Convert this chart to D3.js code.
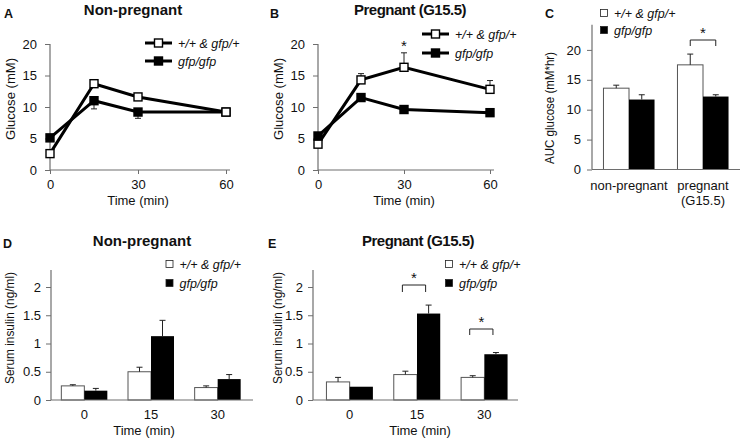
<!DOCTYPE html>
<html><head><meta charset="utf-8">
<script src="https://cdn.jsdelivr.net/npm/d3@7"></script>
<style>body{margin:0;background:#fff} text{font-family:"Liberation Sans",Arial,sans-serif;fill:#111}</style>
</head><body><svg id="c" width="746" height="445"></svg>
<script>
// ---- data ----
const glucoseTimes = [0, 15, 30, 60];
const glucoseXTicks = [0, 30, 60];
const glucoseYTicks = [0, 5, 10, 15, 20];
const npCtrl = [2.6, 13.7, 11.6, 9.2];
const npCtrlErr = [0.3, 0.4, 0.5, 0.3];
const npKO = [5.1, 11.0, 9.2, 9.2];
const npKOErr = [0.3, 1.3, 1.0, 0.4];
const pgCtrl = [4.1, 14.3, 16.3, 12.8];
const pgCtrlErr = [0.3, 1.0, 2.3, 1.4];
const pgKO = [5.4, 11.5, 9.6, 9.1];
const pgKOErr = [0.3, 0.4, 0.4, 0.4];

const aucCats = ["non-pregnant", "pregnant"];
const aucCatsLine2 = ["", "(G15.5)"];
const aucCtrl = [13.6, 17.5];
const aucCtrlErr = [0.5, 1.8];
const aucKO = [11.7, 12.2];
const aucKOErr = [0.8, 0.3];
const aucYTicks = [0, 5, 10, 15, 20];

const insTimes = ["0", "15", "30"];
const insYTicks = [0, 0.5, 1, 1.5, 2];
const npInsCtrl = [0.25, 0.50, 0.22];
const npInsCtrlErr = [0.02, 0.08, 0.03];
const npInsKO = [0.165, 1.13, 0.37];
const npInsKOErr = [0.04, 0.28, 0.08];
const pgInsCtrl = [0.32, 0.45, 0.40];
const pgInsCtrlErr = [0.08, 0.06, 0.03];
const pgInsKO = [0.235, 1.53, 0.81];
const pgInsKOErr = [0.0, 0.15, 0.03];

const legendCtrl = "+/+ & gfp/+";
const legendKO = "gfp/gfp";

// ---- drawing ----
const svg = d3.select("#c");
const AX = "#6e6e6e";

function styleAxis(g) {
  g.selectAll("path.domain").remove();
  g.selectAll(".tick line").attr("stroke", AX);
  g.selectAll(".tick text").attr("font-size", 13).attr("fill", "#111").style("font-family", '"Liberation Sans",Arial,sans-serif');
}
function text(x, y, s, o = {}) {
  const t = svg.append("text").attr("x", x).attr("y", y).text(s)
    .attr("font-size", o.size || 13).attr("text-anchor", o.anchor || "start");
  if (o.bold) t.attr("font-weight", "bold");
  if (o.italic) t.attr("font-style", "italic");
  if (o.ls) t.attr("letter-spacing", o.ls);
  if (o.rot) t.attr("transform", `rotate(-90,${x},${y})`);
  if (o.len) t.attr("textLength", o.len).attr("lengthAdjust", "spacingAndGlyphs");
  return t;
}
function line(x1, y1, x2, y2, c, w) {
  svg.append("line").attr("x1", x1).attr("y1", y1).attr("x2", x2).attr("y2", y2)
    .attr("stroke", c || "#000").attr("stroke-width", w || 1);
}
function errBar(x, yv, ye, cap) {
  line(x, yv, x, ye, "#222", 1);
  line(x - cap, ye, x + cap, ye, "#222", 1);
}

function lineChart(o) {
  const x = d3.scaleLinear().domain([0, 60]).range([o.x0, o.x1]);
  const y = d3.scaleLinear().domain([0, 20]).range([170, 44]);
  const gx = svg.append("g").attr("transform", "translate(0,170)")
    .call(d3.axisBottom(x).tickValues(glucoseXTicks).tickSize(4).tickPadding(6));
  styleAxis(gx);
  const gy = svg.append("g").attr("transform", `translate(${o.x0},0)`)
    .call(d3.axisLeft(y).tickValues(glucoseYTicks).tickSize(5).tickPadding(8));
  styleAxis(gy);
  line(o.x0, 170, o.x1 + 4, 170, AX, 1.2);
  line(o.x0, 170, o.x0, y(20), AX, 1.2);
  glucoseTimes.forEach((t, i) => {
    errBar(x(t), y(o.ctrl[i]), y(o.ctrl[i] + o.ctrlErr[i]), 3);
    errBar(x(t), y(o.ko[i]), y(o.ko[i] - o.koErr[i]), 3);
  });
  const ln = d3.line().x((d, i) => x(glucoseTimes[i])).y(d => y(d));
  [o.ko, o.ctrl].forEach(s => {
    svg.append("path").attr("d", ln(s)).attr("fill", "none").attr("stroke", "#000").attr("stroke-width", 3);
  });
  const m = 8;
  [[o.ko, "#000"], [o.ctrl, "#fff"]].forEach(([s, f]) => {
    svg.append("g").selectAll("rect").data(s).join("rect")
      .attr("x", (d, i) => x(glucoseTimes[i]) - m / 2).attr("y", d => y(d) - m / 2)
      .attr("width", m).attr("height", m).attr("fill", f).attr("stroke", "#000").attr("stroke-width", 1.4);
  });
  const L = o.leg;
  [[L.y1, "#fff", legendCtrl], [L.y2, "#000", legendKO]].forEach(([yy, f, s]) => {
    line(L.x, yy, L.x + 27, yy, "#000", 3);
    svg.append("rect").attr("x", L.x + 13.5 - 4).attr("y", yy - 4).attr("width", 8).attr("height", 8)
      .attr("fill", f).attr("stroke", "#000").attr("stroke-width", 1.4);
    text(L.x + 33, yy + 4.5, s, { size: 12.5, italic: true });
  });
  text(x(30), 205, "Time (min)", { anchor: "middle" });
  return { x, y };
}

function barChart(o) {
  const x = d3.scaleBand().domain(o.cats).range([o.b0, o.b1]);
  const y = d3.scaleLinear().domain([0, o.ymax]).range([o.base, o.base - o.ymax * o.ppu]);
  const gy = svg.append("g").attr("transform", `translate(${o.ax},0)`)
    .call(d3.axisLeft(y).tickValues(o.yticks).tickSize(5).tickPadding(o.tp || 6).tickFormat(d3.format("~g")));
  styleAxis(gy);
  const bw = x.bandwidth() * o.bwr;
  o.cats.forEach((c, i) => {
    const cx = x(c) + x.bandwidth() / 2;
    svg.append("rect").attr("x", cx - bw).attr("y", y(o.ctrl[i])).attr("width", bw)
      .attr("height", o.base - y(o.ctrl[i])).attr("fill", "#fff").attr("stroke", "#555").attr("stroke-width", 1);
    svg.append("rect").attr("x", cx).attr("y", y(o.ko[i])).attr("width", bw)
      .attr("height", o.base - y(o.ko[i])).attr("fill", "#000");
    if (o.ctrlErr[i] > 0) errBar(cx - bw / 2, y(o.ctrl[i]), y(o.ctrl[i] + o.ctrlErr[i]), 3);
    if (o.koErr[i] > 0) errBar(cx + bw / 2, y(o.ko[i]), y(o.ko[i] + o.koErr[i]), 3);
  });
  line(o.ax, o.base, o.axEnd, o.base, AX, 1.2);
  line(o.ax, o.base, o.ax, y(o.ymax), AX, 1.2);
  const L = o.leg;
  [[L.y1, "#fff", legendCtrl], [L.y2, "#000", legendKO]].forEach(([yy, f, s]) => {
    svg.append("rect").attr("x", L.x - 3.5).attr("y", yy - 3.5).attr("width", 7).attr("height", 7)
      .attr("fill", f).attr("stroke", "#222").attr("stroke-width", 0.8);
    text(L.x + 10, yy + 4.5, s, { size: 12.5, italic: true });
  });
  return { x, y, bw };
}

function bracket(x1, x2, yTop, yLeg, starY) {
  svg.append("path").attr("d", `M${x1},${yLeg}V${yTop}H${x2}V${yLeg}`)
    .attr("fill", "none").attr("stroke", "#222").attr("stroke-width", 1);
  text((x1 + x2) / 2, starY, "*", { anchor: "middle", size: 15 });
}

// ---- Panel A ----
lineChart({ x0: 50, x1: 226, ctrl: npCtrl, ctrlErr: npCtrlErr, ko: npKO, koErr: npKOErr,
  leg: { x: 145, y1: 43, y2: 61 } });
text(15, 99, "Glucose (mM)", { rot: true, anchor: "middle", size: 13.5, len: 82 });
text(133, 15, "Non-pregnant", { anchor: "middle", bold: true, size: 15 });
text(4, 18, "A", { size: 12.5, bold: true });

// ---- Panel B ----
const B = lineChart({ x0: 318, x1: 490, ctrl: pgCtrl, ctrlErr: pgCtrlErr, ko: pgKO, koErr: pgKOErr,
  leg: { x: 422, y1: 34, y2: 53 } });
text(283, 99, "Glucose (mM)", { rot: true, anchor: "middle", size: 13.5, len: 82 });
text(410, 15, "Pregnant (G15.5)", { anchor: "middle", bold: true, size: 15, ls: -0.5 });
text(270, 18, "B", { size: 12.5, bold: true });
text(B.x(30), 51, "*", { anchor: "middle", size: 15 });

// ---- Panel C ----
const C = barChart({ cats: aucCats, b0: 592, b1: 740, ax: 592, axEnd: 740, base: 169.5, ppu: 5.98, ymax: 24.2,
  yticks: aucYTicks, ctrl: aucCtrl, ctrlErr: aucCtrlErr, ko: aucKO, koErr: aucKOErr, bwr: 0.345, tp: 6,
  leg: { x: 604, y1: 13, y2: 30 } });
aucCats.forEach((c, i) => {
  const cx = C.x(c) + C.x.bandwidth() / 2;
  text(cx, 190, c, { anchor: "middle" });
  if (aucCatsLine2[i]) text(cx, 205, aucCatsLine2[i], { anchor: "middle" });
});
text(554, 108, "AUC glucose (mM*hr)", { rot: true, anchor: "middle", size: 13.5, len: 112 });
text(545, 18, "C", { size: 12.5, bold: true });
{
  const cx = C.x(aucCats[1]) + C.x.bandwidth() / 2;
  bracket(cx - C.bw / 2, cx + C.bw / 2, 40, 46, 38);
}

// ---- Panel D ----
const D = barChart({ cats: insTimes, b0: 51, b1: 251, ax: 51, axEnd: 253, base: 400, ppu: 56.5, ymax: 2.3,
  yticks: insYTicks, ctrl: npInsCtrl, ctrlErr: npInsCtrlErr, ko: npInsKO, koErr: npInsKOErr, bwr: 0.345, tp: 5,
  leg: { x: 169.5, y1: 264, y2: 283 } });
insTimes.forEach(c => text(D.x(c) + D.x.bandwidth() / 2, 419, c, { anchor: "middle" }));
text(144, 435, "Time (min)", { anchor: "middle" });
text(14, 328, "Serum insulin (ng/ml)", { rot: true, anchor: "middle", size: 13.5, len: 112 });
text(142, 246, "Non-pregnant", { anchor: "middle", bold: true, size: 15 });
text(3, 248, "D", { size: 12.5, bold: true });

// ---- Panel E ----
const E = barChart({ cats: insTimes, b0: 316, b1: 518, ax: 313, axEnd: 518, base: 400, ppu: 56.5, ymax: 2.3,
  yticks: insYTicks, ctrl: pgInsCtrl, ctrlErr: pgInsCtrlErr, ko: pgInsKO, koErr: pgInsKOErr, bwr: 0.345, tp: 5,
  leg: { x: 449, y1: 264, y2: 283 } });
insTimes.forEach(c => text(E.x(c) + E.x.bandwidth() / 2, 419, c, { anchor: "middle" }));
text(420, 435, "Time (min)", { anchor: "middle" });
text(282, 328, "Serum insulin (ng/ml)", { rot: true, anchor: "middle", size: 13.5, len: 112 });
text(418, 246, "Pregnant (G15.5)", { anchor: "middle", bold: true, size: 15, ls: -0.5 });
text(268, 248, "E", { size: 12.5, bold: true });
[["15", 285, 292, 283], ["30", 329, 335, 327]].forEach(([c, yt, yl, sy]) => {
  const cx = E.x(c) + E.x.bandwidth() / 2;
  bracket(cx - E.bw / 2 - 3, cx + E.bw / 2 - 3, yt, yl, sy);
});
</script></body></html>
